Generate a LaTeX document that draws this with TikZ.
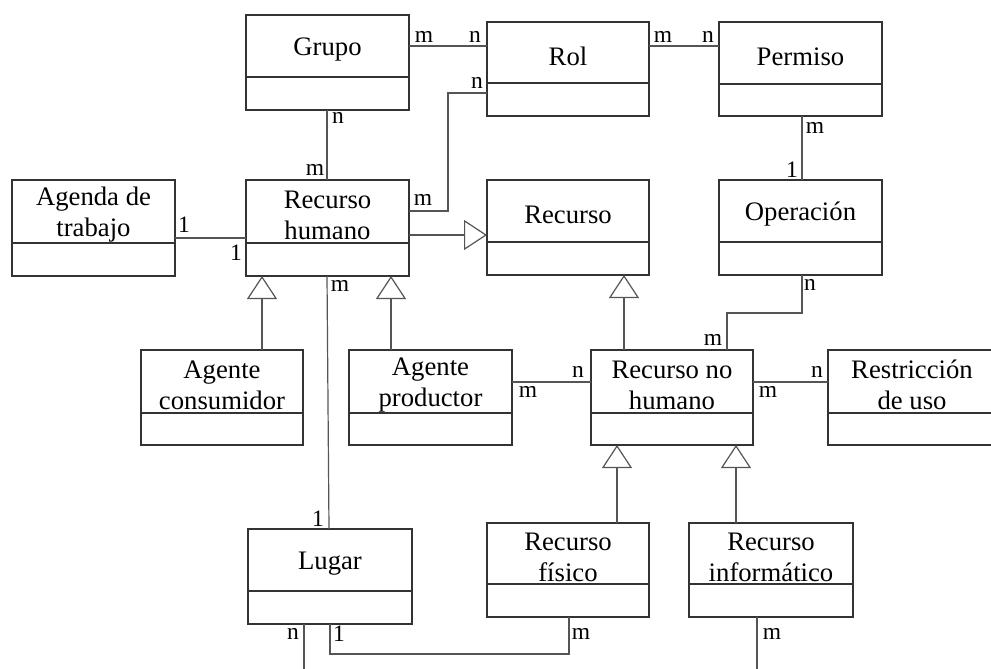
\documentclass[tikz,border=0pt]{standalone}
\usepackage{fontspec}
\setmainfont{Liberation Serif}
\usetikzlibrary{arrows.meta,fit}
\definecolor{boxcol}{HTML}{333333}
\definecolor{linecol}{HTML}{555555}

% class box: name, x1, y1, x2, y2, divider y, title
\newcommand\umlclass[7]{%
  \node[cls, fit={(#2,#3)(#4,#5)}] (#1) {};
  \draw[boxcol, line width=1.2pt] (#2,#6) -- (#4,#6);
  \node[title] (#1-name) at ({(#2+#4)/2},{(#3+#6)/2}) {#7};
}

\begin{document}
\begin{tikzpicture}[x=1pt,y=-1pt,
  cls/.style={draw=boxcol, line width=1.2pt, inner sep=0pt, outer sep=0pt},
  title/.style={font=\fontsize{26.7}{31}\selectfont, align=center, inner sep=0pt, yshift=-3.5pt},
  conn/.style={draw=linecol, line width=1.2pt},
  inh/.style={conn, -{Triangle[open, length=23pt, width=30pt, fill=white]}},
  mult/.style={font=\fontsize{23.5}{26}\selectfont, inner sep=0pt}]
\useasboundingbox (0,0) rectangle (991,669);

% classes
\umlclass{grupo}{246}{15}{409}{110}{77}{Grupo}
\umlclass{rol}{487}{22}{649}{116}{83}{Rol}
\umlclass{permiso}{719}{22}{882}{116}{84}{Permiso}
\umlclass{agenda}{12}{180}{175}{276}{243}{Agenda de\\trabajo}
\umlclass{rh}{246}{180}{409}{276}{243}{Recurso\\humano}
\umlclass{recurso}{487}{180}{649}{275}{242}{Recurso}
\umlclass{operacion}{719}{180}{882}{275}{242}{Operación}
\umlclass{consumidor}{141}{350}{303}{445}{413}{Agente\\consumidor}
\umlclass{productor}{349}{350}{512}{445}{413}{Agente\\productor}
\umlclass{rnh}{591}{350}{753}{445}{413}{Recurso no\\humano}
\umlclass{restriccion}{828}{350}{996}{445}{413}{Restricción\\de uso}
\umlclass{lugar}{248}{529}{412}{624}{591}{Lugar}
\umlclass{fisico}{487}{523}{649}{617}{584}{Recurso\\físico}
\umlclass{informatico}{689}{523}{853}{617}{584}{Recurso\\informático}

% associations
\draw[conn] (grupo.east |- 0,46) -- (rol.west |- 0,46);
\draw[conn] (rol.east |- 0,46) -- (permiso.west |- 0,46);
\draw[conn] (rol.west |- 0,93) -- ++(-39,0) |- (rh.east |- 0,211);
\draw[conn] (grupo.south -| 327,0) -- (rh.north -| 327,0);
\draw[conn] (permiso.south -| 802,0) -- (operacion.north -| 802,0);
\draw[conn] (agenda.east |- 0,238) -- (rh.west |- 0,238);
\draw[conn] (rh.south -| 327,0) -- (lugar.north -| 329,0);
\draw[conn] (operacion.south -| 802,0) -- ++(0,38) -| (rnh.north -| 727,0);
\draw[conn] (productor.east |- 0,382) -- (rnh.west |- 0,382);
\draw[conn] (rnh.east |- 0,382) -- (restriccion.west |- 0,382);
\coordinate (lugarout) at (304,669);
\draw[conn] (lugar.south -| 304,0) -- (lugarout);
\draw[conn] (lugar.south -| 330,0) -- ++(0,30) -| (fisico.south -| 569,0);
\coordinate (infout) at (757,669);
\draw[conn] (informatico.south -| 757,0) -- (infout);

% generalizations
\draw[inh] (rh.east |- 0,235) -- (recurso.west |- 0,235);
\draw[inh] (consumidor.north -| 262,0) -- (rh.south -| 262,0);
\draw[inh] (productor.north -| 391,0) -- (rh.south -| 391,0);
\draw[inh] (rnh.north -| 624,0) -- (recurso.south -| 624,0);
\draw[inh] (fisico.north -| 617,0) -- (rnh.south -| 617,0);
\draw[inh] (informatico.north -| 736,0) -- (rnh.south -| 736,0);

% multiplicities
\node[mult] (m01) at (424,37) {m};
\node[mult] (m02) at (475,37) {n};
\node[mult] (m03) at (663,37) {m};
\node[mult] (m04) at (708,37) {n};
\node[mult] (m05) at (477,83) {n};
\node[mult] (m06) at (423,200) {m};
\node[mult] (m07) at (338,118) {n};
\node[mult] (m08) at (315,170) {m};
\node[mult] (m09) at (815,128) {m};
\node[mult] (m10) at (792,170) {1};
\node[mult] (m11) at (184,225) {1};
\node[mult] (m12) at (236,253) {1};
\node[mult] (m13) at (340,286) {m};
\node[mult] (m14) at (810,285) {n};
\node[mult] (m15) at (713,340) {m};
\node[mult] (m16) at (528,392) {m};
\node[mult] (m17) at (578,372) {n};
\node[mult] (m18) at (768,392) {m};
\node[mult] (m19) at (817,372) {n};
\node[mult] (m20) at (318,519) {1};
\node[mult] (m21) at (293,634) {n};
\node[mult] (m22) at (339,634) {1};
\node[mult] (m23) at (581,634) {m};
\node[mult] (m24) at (772,634) {m};
\end{tikzpicture}
\end{document}
